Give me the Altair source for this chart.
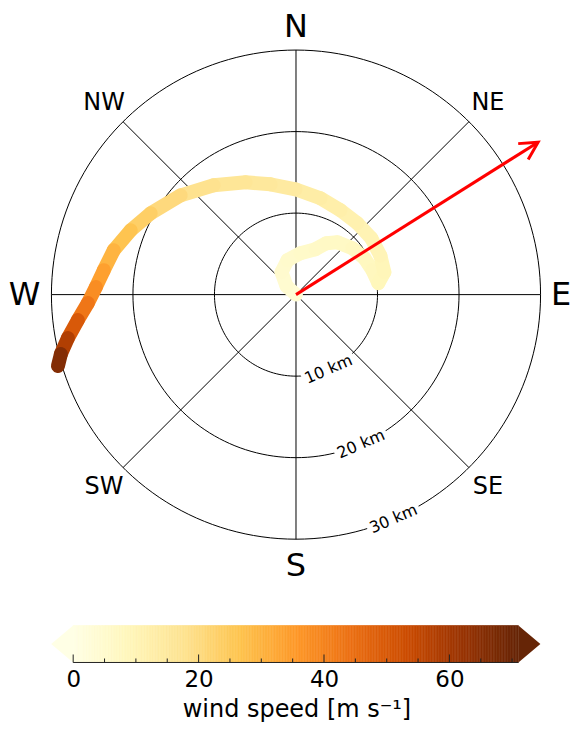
import altair as alt
import numpy as np
import pandas as pd

FONT = "DejaVu Sans"

# ---- data ----
# balloon track, km east / km north of launch, and wind speed [m/s]
east_km = [0.0, -1.16, -1.78, -1.04, 0.55, 2.39, 3.73, 5.08, 6.92, 8.39, 9.37, 10.10,
           10.84, 10.35, 9.24, 7.53, 5.45, 3.0, -0.06, -3.12, -6.18, -10.10, -14.14,
           -17.82, -20.27, -22.35, -23.57, -24.55, -25.53, -26.76, -27.98, -28.84, -29.20]
north_km = [0.0, 1.04, 2.76, 4.22, 5.08, 5.57, 6.31, 6.43, 5.69, 4.47, 3.0, 1.41,
            2.76, 4.78, 6.92, 8.75, 10.35, 11.82, 12.92, 13.53, 13.78, 13.41, 12.18,
            9.98, 7.90, 5.45, 3.0, 0.92, -1.04, -3.12, -5.33, -7.29, -8.75]
speed = [3, 4, 5, 5, 6, 6, 7, 7, 7, 8, 8, 9, 9, 10, 10, 11, 12, 13, 14, 15, 16, 17, 19,
         22, 25, 28, 32, 36, 40, 46, 54, 62, 70]

ring_km = [10, 20, 30]
ring_labels = ["10 km", "20 km", "30 km"]
ring_label_bearing = 156.5

compass = ["N", "NE", "E", "SE", "S", "SW", "W", "NW"]
compass_bearing = [0, 45, 90, 135, 180, 225, 270, 315]
compass_size = [32, 24, 32, 24, 32, 24, 32, 24]

arrow_east = 29.7
arrow_north = 18.7

cbar_min, cbar_max = 0, 71
cbar_major = [0, 20, 40, 60]
cbar_minor = [5, 10, 15, 25, 30, 35, 45, 50, 55, 65, 70]
ylorbr = ["#ffffe5", "#fff7bc", "#fee391", "#fec44f", "#fe9929",
          "#ec7014", "#cc4c02", "#993404", "#662506"]

# ---- geometry of the frame ----
PX_PER_KM = 245 / 30.0
W_TOP, H_TOP = 565, 590
CX, CY = 287.5, 286.5
xdom = [-CX / PX_PER_KM, (W_TOP - CX) / PX_PER_KM]
ydom = [-(H_TOP - CY) / PX_PER_KM, CY / PX_PER_KM]
xs = alt.Scale(domain=xdom, nice=False, zero=False)
ys = alt.Scale(domain=ydom, nice=False, zero=False)
cscale = alt.Scale(domain=list(np.linspace(cbar_min, cbar_max, len(ylorbr))),
                   range=ylorbr, interpolate="rgb")

rad = np.pi / 180

# rings
ang = np.arange(0, 362, 2)
rings = pd.DataFrame([
    {"r": r, "a": a, "x": r * np.sin(a * rad), "y": r * np.cos(a * rad)}
    for r in ring_km for a in ang
])
rings_layer = alt.Chart(rings).mark_line(color="black", strokeWidth=1).encode(
    x=alt.X("x:Q", scale=xs, axis=None),
    y=alt.Y("y:Q", scale=ys, axis=None),
    detail="r:N", order="a:Q")

# spokes
spk = pd.DataFrame({"b": compass_bearing})
spk["x0"] = 0.0
spk["y0"] = 0.0
spk["x1"] = max(ring_km) * np.sin(spk["b"] * rad)
spk["y1"] = max(ring_km) * np.cos(spk["b"] * rad)
spokes_layer = alt.Chart(spk).mark_rule(color="black", strokeWidth=1).encode(
    x=alt.X("x0:Q", scale=xs, axis=None), y=alt.Y("y0:Q", scale=ys, axis=None),
    x2="x1:Q", y2="y1:Q")

# ring labels
rl = pd.DataFrame({"r": ring_km, "t": ring_labels})
rl["x"] = rl["r"] * np.sin(ring_label_bearing * rad)
rl["y"] = rl["r"] * np.cos(ring_label_bearing * rad)
rot = 360 - (180 - ring_label_bearing)
bg_layer = alt.Chart(rl).mark_point(
    shape="M -1 -0.28 L 1 -0.28 L 1 0.28 L -1 0.28 Z", filled=True, color="white",
    opacity=1, size=56 * 56, angle=rot, strokeWidth=0).encode(
    x=alt.X("x:Q", scale=xs, axis=None), y=alt.Y("y:Q", scale=ys, axis=None))
rl_text = alt.Chart(rl).mark_text(font=FONT, fontSize=16, color="black", angle=rot,
                                  align="center", baseline="middle").encode(
    x=alt.X("x:Q", scale=xs, axis=None), y=alt.Y("y:Q", scale=ys, axis=None), text="t:N")

# compass labels (kept inside the page)
cp = pd.DataFrame({"t": compass, "b": compass_bearing, "fs": compass_size})
R_LAB = 33.3
cp["x"] = R_LAB * np.sin(cp["b"] * rad)
cp["y"] = R_LAB * np.cos(cp["b"] * rad)
cp["x"] = cp["x"].clip(upper=xdom[1] - 12 / PX_PER_KM)
cp["y"] = cp["y"].clip(upper=ydom[1] - 18 / PX_PER_KM)
cp_text = alt.Chart(cp).mark_text(font=FONT, color="black", align="center",
                                  baseline="middle").encode(
    x=alt.X("x:Q", scale=xs, axis=None), y=alt.Y("y:Q", scale=ys, axis=None),
    text="t:N", size=alt.Size("fs:Q", scale=None, legend=None))

# trajectory as coloured segments
rows = []
for i in range(len(east_km) - 1):
    s = (speed[i] + speed[i + 1]) / 2
    rows.append({"seg": i, "o": 0, "x": east_km[i], "y": north_km[i], "s": s})
    rows.append({"seg": i, "o": 1, "x": east_km[i + 1], "y": north_km[i + 1], "s": s})
traj = pd.DataFrame(rows)
traj_layer = alt.Chart(traj).mark_line(strokeWidth=14, strokeCap="round").encode(
    x=alt.X("x:Q", scale=xs, axis=None), y=alt.Y("y:Q", scale=ys, axis=None),
    detail="seg:N", order="o:Q",
    color=alt.Color("s:Q", scale=cscale, legend=None))

# red arrow
arr = pd.DataFrame({"x0": [0.0], "y0": [0.0], "x1": [arrow_east], "y1": [arrow_north]})
head_angle = float(np.degrees(np.arctan2(arrow_east, arrow_north)))
arrow_line = alt.Chart(arr).mark_rule(color="red", strokeWidth=3).encode(
    x=alt.X("x0:Q", scale=xs, axis=None), y=alt.Y("y0:Q", scale=ys, axis=None),
    x2="x1:Q", y2="y1:Q")
arrow_head = alt.Chart(arr).mark_point(
    shape="M -0.47 0.883 L 0 0 L 0.47 0.883", filled=False, color="red", opacity=1,
    strokeWidth=3, size=1600, angle=head_angle).encode(
    x=alt.X("x1:Q", scale=xs, axis=None), y=alt.Y("y1:Q", scale=ys, axis=None))

top = alt.layer(rings_layer, spokes_layer, bg_layer, rl_text, cp_text, traj_layer,
                arrow_line, arrow_head).properties(width=W_TOP, height=H_TOP)

# ---- colorbar ----
CB_W, CB_H = 565, 37
x0_px, x1_px = 64.3, 510.3
ppu = (x1_px - x0_px) / (cbar_max - cbar_min)
cbx = alt.Scale(domain=[cbar_min - x0_px / ppu, cbar_min + (CB_W - x0_px) / ppu],
                nice=False, zero=False)
cb_axis = alt.Axis(values=cbar_major, ticks=False, domain=False, grid=False,
                   labelFont=FONT, labelFontSize=23, labelColor="black",
                   labelPadding=6, labelFlush=False,
                   title="wind speed [m s⁻¹]", titleFont=FONT, titleFontSize=24,
                   titleFontWeight="normal", titleColor="black",
                   titleBaseline="alphabetic", titleY=54, titleX=288,
                   titleAlign="center")

step = 0.25
vals = np.arange(cbar_min, cbar_max, step)
grad = pd.DataFrame({"v": vals, "v2": vals + step, "c": vals + step / 2})
grad_layer = alt.Chart(grad).mark_rect(strokeWidth=0.6).encode(
    x=alt.X("v:Q", scale=cbx, axis=cb_axis), x2="v2:Q",
    y=alt.value(0), y2=alt.value(CB_H),
    color=alt.Color("c:Q", scale=cscale, legend=None),
    stroke=alt.Stroke("c:Q", scale=cscale, legend=None))

tri_l = alt.Chart(pd.DataFrame({"v": [cbar_min]})).mark_point(
    shape="M 0 -1 L -1.19 0 L 0 1 Z", filled=True, opacity=1, size=CB_H * CB_H,
    strokeWidth=0).encode(
    x=alt.X("v:Q", scale=cbx, axis=cb_axis), y=alt.value(CB_H / 2),
    color=alt.Color("v:Q", scale=cscale, legend=None))
tri_r = alt.Chart(pd.DataFrame({"v": [cbar_max]})).mark_point(
    shape="M 0 -1 L 1.19 0 L 0 1 Z", filled=True, opacity=1, size=CB_H * CB_H,
    strokeWidth=0).encode(
    x=alt.X("v:Q", scale=cbx, axis=cb_axis), y=alt.value(CB_H / 2),
    color=alt.Color("v:Q", scale=cscale, legend=None))

base_line = alt.Chart(pd.DataFrame({"a": [cbar_min], "b": [cbar_max]})).mark_rule(
    color="#222222", strokeWidth=1).encode(
    x=alt.X("a:Q", scale=cbx, axis=cb_axis), x2="b:Q", y=alt.value(CB_H))
maj = alt.Chart(pd.DataFrame({"v": cbar_major})).mark_rule(
    color="#222222", strokeWidth=1).encode(
    x=alt.X("v:Q", scale=cbx, axis=cb_axis), y=alt.value(CB_H), y2=alt.value(CB_H - 8))
mino = alt.Chart(pd.DataFrame({"v": cbar_minor})).mark_rule(
    color="#222222", strokeWidth=1).encode(
    x=alt.X("v:Q", scale=cbx, axis=cb_axis), y=alt.value(CB_H), y2=alt.value(CB_H - 4))

cbar = alt.layer(grad_layer, tri_l, tri_r, base_line, maj, mino).properties(
    width=CB_W, height=CB_H)

chart = alt.vconcat(top, cbar, spacing=27).properties(padding=0).configure_view(
    strokeWidth=0)

chart.save("out.html", embed_options={"renderer": "svg", "actions": False})
